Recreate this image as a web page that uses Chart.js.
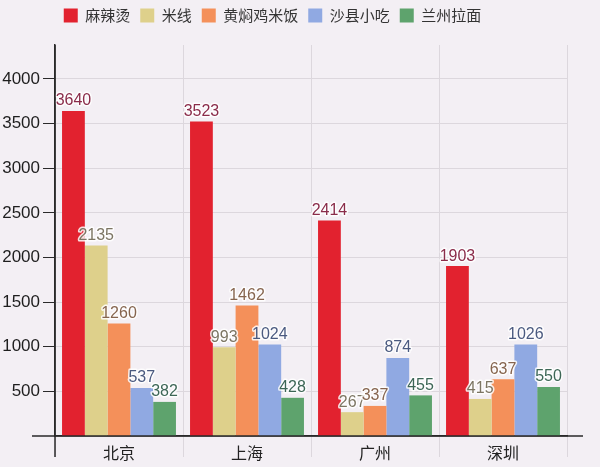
<!DOCTYPE html>
<html lang="zh">

<head>
    <meta charset="UTF-8" />
    <title>城市小吃店数量</title>
    <script src="https://cdn.jsdelivr.net/npm/chart.js@4"></script>
    <style>
        html, body { margin: 0; padding: 0; background: #f3eff4; }
        #wrap { width: 600px; height: 467px; position: relative; }
    </style>
</head>

<body>
    <div id="wrap"><canvas id="snackChart"></canvas></div>

    <script>
        // data
        const cities = ['北京', '上海', '广州', '深圳'];
        const seriesNames = ['麻辣烫', '米线', '黄焖鸡米饭', '沙县小吃', '兰州拉面'];
        const malatang = [3640, 3523, 2414, 1903];
        const mixian = [2135, 993, 267, 415];
        const huangmenji = [1260, 1462, 337, 637];
        const shaxian = [537, 1024, 874, 1026];
        const lanzhou = [382, 428, 455, 550];
        const yTicks = [500, 1000, 1500, 2000, 2500, 3000, 3500, 4000];

        const barColors = ['#e2222f', '#ded08b', '#f4905a', '#90a9e2', '#5ea36d'];
        const labelColors = ['#8a2c4a', '#7c7563', '#86654f', '#4b5a80', '#3d6656'];
        const seriesValues = [malatang, mixian, huangmenji, shaxian, lanzhou];

        const axisColor = '#2a2a2a';
        const gridColor = '#dcd7dd';

        // value labels above each bar, dark text with a white halo
        const valueLabels = {
            id: 'valueLabels',
            afterDatasetsDraw(chart) {
                const ctx = chart.ctx;
                ctx.save();
                ctx.font = '16px "Liberation Sans", Arial, sans-serif';
                ctx.textAlign = 'center';
                ctx.textBaseline = 'bottom';
                ctx.lineJoin = 'round';
                chart.data.datasets.forEach((ds, i) => {
                    chart.getDatasetMeta(i).data.forEach((bar, j) => {
                        const txt = String(ds.data[j]);
                        ctx.lineWidth = 3;
                        ctx.strokeStyle = 'rgba(255,255,255,0.85)';
                        ctx.strokeText(txt, bar.x, bar.y - 2);
                        ctx.fillStyle = labelColors[i];
                        ctx.fillText(txt, bar.x, bar.y - 2);
                    });
                });
                ctx.restore();
            }
        };

        // legend sits a bit left of centre, plot starts lower; axis lines run past the plot area
        const longAxes = {
            id: 'longAxes',
            afterInit(chart) {
                const lg = chart.legend;
                const origFit = lg.fit;
                lg.fit = function () {
                    origFit.call(this);
                    this.height += 10;
                };
            },
            afterLayout(chart) {
                chart.legend.left -= 11;
                chart.legend.right -= 11;
                chart.legend.top -= 2;
            },
            afterDraw(chart) {
                const { left, right, top, bottom } = chart.chartArea;
                const ctx = chart.ctx;
                ctx.save();
                ctx.strokeStyle = axisColor;
                ctx.lineWidth = 1.5;
                ctx.beginPath();
                ctx.moveTo(left - 23, bottom);
                ctx.lineTo(right + 16, bottom);
                ctx.moveTo(left, top);
                ctx.lineTo(left, bottom + 21);
                ctx.stroke();
                ctx.restore();
            }
        };

        new Chart(document.getElementById('snackChart'), {
            type: 'bar',
            data: {
                labels: cities,
                datasets: seriesNames.map((name, i) => ({
                    label: name,
                    data: seriesValues[i],
                    backgroundColor: barColors[i],
                    borderWidth: 0,
                    categoryPercentage: 0.89,
                    barPercentage: 1.0
                }))
            },
            options: {
                responsive: true,
                maintainAspectRatio: false,
                animation: false,
                layout: { padding: { top: 0, right: 33, bottom: 0, left: 0 } },
                plugins: {
                    tooltip: { enabled: false },
                    legend: {
                        position: 'top',
                        labels: {
                            boxWidth: 14,
                            boxHeight: 14,
                            padding: 10,
                            color: '#333',
                            font: { size: 15, family: '"Noto Sans CJK SC", sans-serif' }
                        }
                    }
                },
                scales: {
                    x: {
                        grid: {
                            color: gridColor,
                            tickColor: gridColor,
                            tickLength: 21,
                            offset: true
                        },
                        border: { color: axisColor, width: 1.5 },
                        ticks: {
                            padding: -14,
                            color: '#222',
                            font: { size: 16, family: '"Noto Sans CJK SC", sans-serif' }
                        },
                        afterFit(scale) { scale.height = 31; }
                    },
                    y: {
                        min: 0,
                        max: 4380,
                        grid: {
                            color: gridColor,
                            tickColor: axisColor,
                            tickLength: 12
                        },
                        border: { color: axisColor, width: 1.5 },
                        ticks: {
                            padding: 3,
                            color: '#1e1e1e',
                            font: { size: 17, family: '"Liberation Sans", Arial, sans-serif' },
                            callback: v => String(v)
                        },
                        afterBuildTicks(scale) {
                            scale.ticks = yTicks.map(v => ({ value: v }));
                        },
                        afterFit(scale) { scale.width = 55; }
                    }
                }
            },
            plugins: [valueLabels, longAxes]
        });
    </script>
</body>

</html>
